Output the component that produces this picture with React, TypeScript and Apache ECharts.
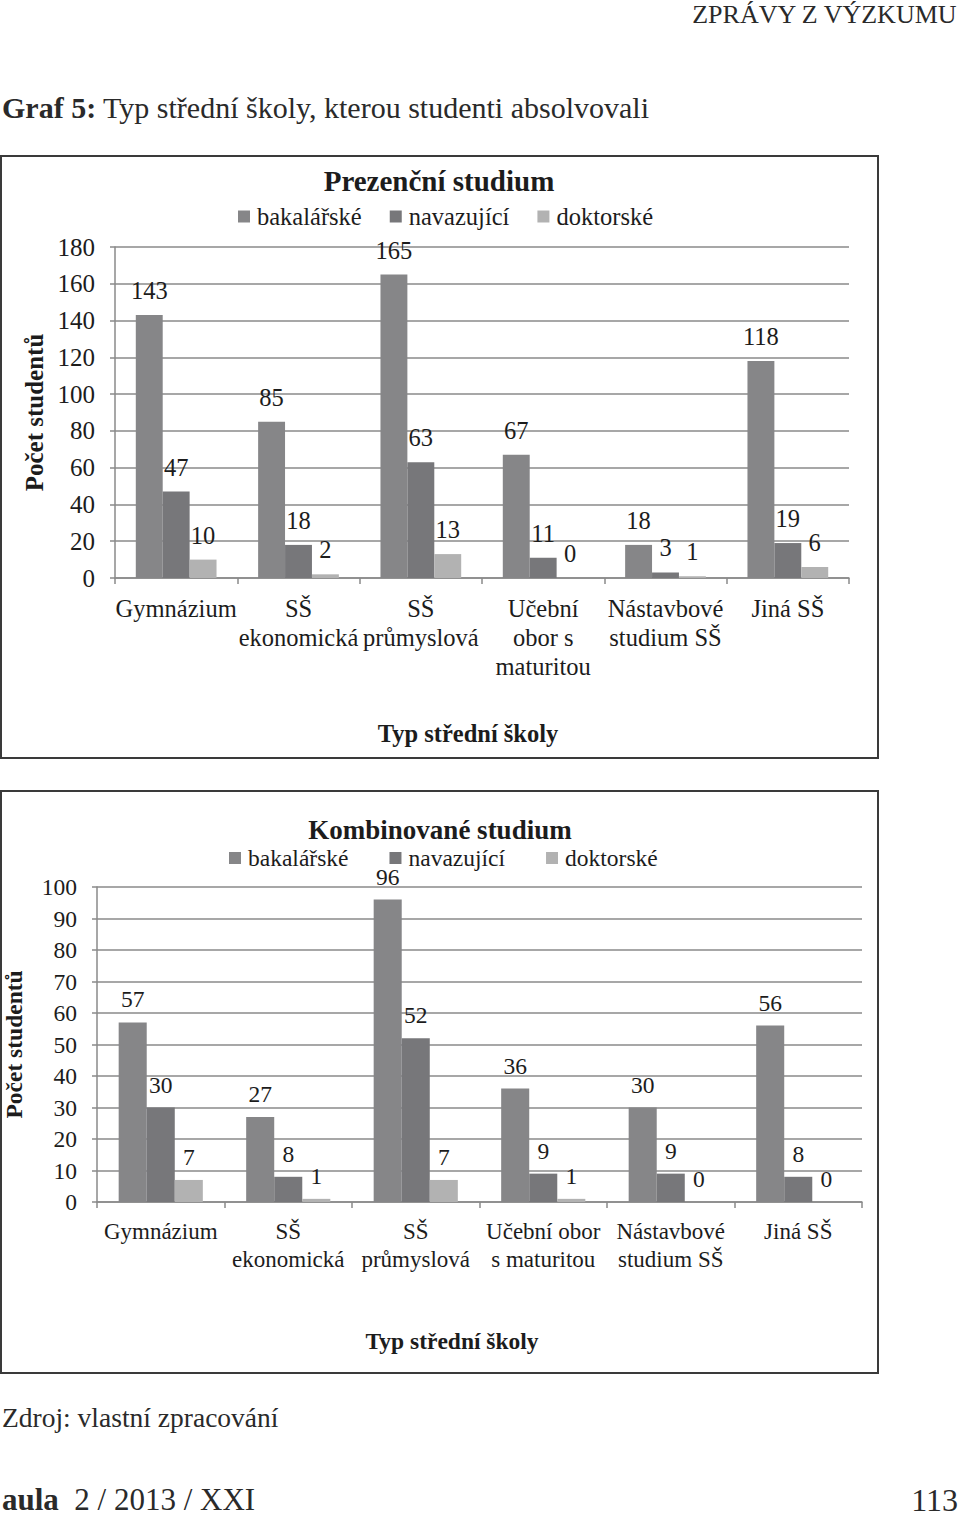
import React, { useEffect, useRef } from "react";
import * as echarts from "echarts";

const categoriesPrez = ["Gymnázium", "SŠ\nekonomická", "SŠ\nprůmyslová", "Učební\nobor s\nmaturitou", "Nástavbové\nstudium SŠ", "Jiná SŠ"];
const prezBak = [143, 85, 165, 67, 18, 118];
const prezNav = [47, 18, 63, 11, 3, 19];
const prezDok = [10, 2, 13, 0, 1, 6];

const categoriesKomb = ["Gymnázium", "SŠ\nekonomická", "SŠ\nprůmyslová", "Učební obor\ns maturitou", "Nástavbové\nstudium SŠ", "Jiná SŠ"];
const kombBak = [57, 27, 96, 36, 30, 56];
const kombNav = [30, 8, 52, 9, 9, 8];
const kombDok = [7, 1, 7, 1, 0, 0];

const seriesNames = ["bakalářské", "navazující", "doktorské"];
const colors = ["#868688", "#77777a", "#b2b2b2"];

const SERIF = "Liberation Serif";
const GARA = "Liberation Serif";
const INK = "#1c1c1c";
const PAGE = "#2a2a2a";

export default function App() {
  const ref = useRef<HTMLDivElement>(null);
  useEffect(() => {
    if (!ref.current) return;
    const chart = echarts.init(ref.current, undefined, { renderer: "svg" });
    const gray = "#8a8a8a";
    const gridLine = { show: true, lineStyle: { color: gray, width: 1.5 } };
    const axisLine = { show: true, lineStyle: { color: gray, width: 1.5 } };
    const mkSeries = (data: number[], idx: number, axis: number, fs: number, dist: number) => ({
      type: "bar",
      name: seriesNames[idx],
      xAxisIndex: axis,
      yAxisIndex: axis,
      data,
      barGap: "0%",
      barCategoryGap: "34%",
      itemStyle: { color: colors[idx] },
      label: { show: true, position: "top", distance: dist, fontFamily: SERIF, fontSize: fs, color: INK },
    });
    const option: any = {
      animation: false,
      backgroundColor: "#ffffff",
      color: colors,
      graphic: [
        { type: "text", right: 2, top: 1, style: { text: "ZPRÁVY Z VÝZKUMU", font: `26px "${GARA}"`, fill: PAGE } },
        {
          type: "text", left: 2, top: 92,
          style: {
            text: "{b|Graf 5:} Typ střední školy, kterou studenti absolvovali",
            rich: { b: { fontFamily: GARA, fontSize: 30, fontWeight: "bold", fill: PAGE } },
            font: `30px "${GARA}"`, fill: PAGE,
          },
        },
        { type: "rect", shape: { x: 1, y: 156, width: 877, height: 602 }, style: { fill: "none", stroke: "#3a3a3a", lineWidth: 2 } },
        { type: "rect", shape: { x: 1, y: 791, width: 877, height: 582 }, style: { fill: "none", stroke: "#3a3a3a", lineWidth: 2 } },
        { type: "text", x: 439, y: 181, style: { text: "Prezenční studium", font: `bold 29px "${SERIF}"`, fill: INK, textAlign: "center", textVerticalAlign: "middle" } },
        { type: "text", x: 440, y: 830, style: { text: "Kombinované studium", font: `bold 27px "${SERIF}"`, fill: INK, textAlign: "center", textVerticalAlign: "middle" } },
        { type: "text", left: 2, top: 1403, style: { text: "Zdroj: vlastní zpracování", font: `27.5px "${GARA}"`, fill: PAGE } },
        {
          type: "text", left: 2, top: 1484,
          style: {
            text: "{b|aula}  2 / 2013 / XXI",
            rich: { b: { fontFamily: GARA, fontSize: 31, fontWeight: "bold", fill: PAGE } },
            font: `31px "${GARA}"`, fill: PAGE,
          },
        },
        { type: "text", right: 2, top: 1484, style: { text: "113", font: `32px "${GARA}"`, fill: PAGE } },
      ],
      legend: [
        {
          left: 233, top: 199, itemWidth: 12, itemHeight: 12, itemGap: 28, icon: "rect",
          data: seriesNames, selectedMode: false,
          textStyle: { fontFamily: SERIF, fontSize: 24.5, color: INK, padding: [0, 0, 0, 2] },
        },
        {
          left: 224, top: 841, itemWidth: 12, itemHeight: 12, itemGap: 41, icon: "rect",
          data: seriesNames, selectedMode: false,
          textStyle: { fontFamily: SERIF, fontSize: 23.5, color: INK, padding: [0, 0, 0, 2] },
        },
      ],
      grid: [
        { left: 115, right: 111, top: 247, height: 331, outerBoundsMode: "none", containLabel: false },
        { left: 97, right: 98, top: 887, height: 315, outerBoundsMode: "none", containLabel: false },
      ],
      xAxis: [
        {
          type: "category", gridIndex: 0, data: categoriesPrez,
          axisLine, axisTick: { show: true, length: 6, lineStyle: { color: gray, width: 1.5 } },
          axisLabel: { fontFamily: SERIF, fontSize: 24.5, color: INK, margin: 16, lineHeight: 29, interval: 0 },
          name: "Typ střední školy", nameLocation: "middle", nameGap: 143,
          nameTextStyle: { fontFamily: SERIF, fontSize: 24.5, fontWeight: "bold", color: INK, padding: [0, 28, 0, 0] },
        },
        {
          type: "category", gridIndex: 1, data: categoriesKomb,
          axisLine, axisTick: { show: true, length: 6, lineStyle: { color: gray, width: 1.5 } },
          axisLabel: { fontFamily: SERIF, fontSize: 23, color: INK, margin: 15, lineHeight: 28, interval: 0 },
          name: "Typ střední školy", nameLocation: "middle", nameGap: 127,
          nameTextStyle: { fontFamily: SERIF, fontSize: 23.5, fontWeight: "bold", color: INK, padding: [0, 55, 0, 0] },
        },
      ],
      yAxis: [
        {
          type: "value", gridIndex: 0, min: 0, max: 180, interval: 20,
          axisLine, axisTick: { show: true, length: 5, lineStyle: { color: gray, width: 1.5 } },
          splitLine: gridLine,
          axisLabel: { fontFamily: SERIF, fontSize: 25, color: INK, margin: 20 },
          name: "Počet studentů", nameLocation: "middle", nameGap: 66, nameRotate: 90,
          nameTextStyle: { fontFamily: SERIF, fontSize: 25, fontWeight: "bold", color: INK },
        },
        {
          type: "value", gridIndex: 1, min: 0, max: 100, interval: 10,
          axisLine, axisTick: { show: true, length: 5, lineStyle: { color: gray, width: 1.5 } },
          splitLine: gridLine,
          axisLabel: { fontFamily: SERIF, fontSize: 23.5, color: INK, margin: 20 },
          name: "Počet studentů", nameLocation: "middle", nameGap: 71, nameRotate: 90,
          nameTextStyle: { fontFamily: SERIF, fontSize: 23.5, fontWeight: "bold", color: INK },
        },
      ],
      series: [
        mkSeries(prezBak, 0, 0, 24.5, 12),
        mkSeries(prezNav, 1, 0, 24.5, 12),
        mkSeries(prezDok, 2, 0, 24.5, 12),
        mkSeries(kombBak, 0, 1, 23.5, 11),
        mkSeries(kombNav, 1, 1, 23.5, 11),
        mkSeries(kombDok, 2, 1, 23.5, 11),
      ],
    };
    chart.setOption(option);
    return () => chart.dispose();
  }, []);
  return (
    <div
      ref={ref}
      style={{ position: "absolute", left: 0, top: 0, width: 960, height: 1518, background: "#fff" }}
    />
  );
}
